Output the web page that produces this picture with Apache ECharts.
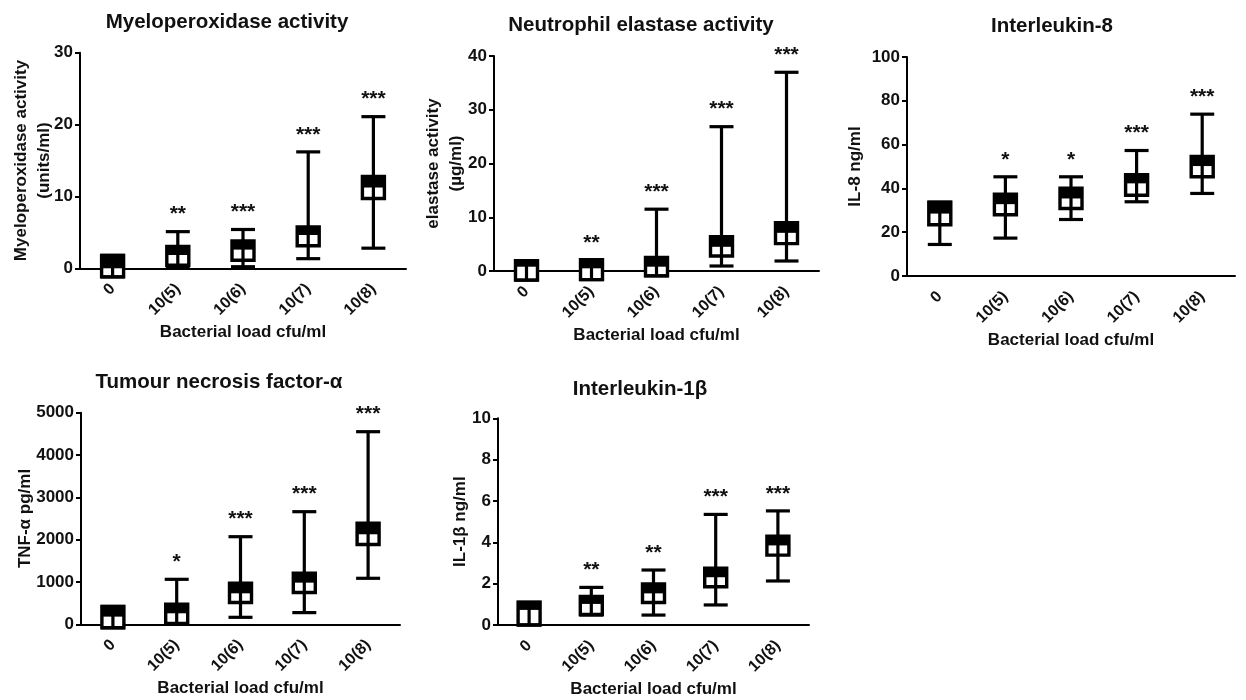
<!DOCTYPE html>
<html>
<head>
<meta charset="utf-8">
<script src="https://cdn.jsdelivr.net/npm/echarts@6/dist/echarts.min.js"></script>
<style>
  html, body { margin: 0; padding: 0; background: #fff; }
  #main { width: 1246px; height: 700px; }
</style>
</head>
<body>
<div id="main"></div>
<script>
var categories = ['0', '10(5)', '10(6)', '10(7)', '10(8)'];

// Myeloperoxidase activity (units/ml)
var mpoMin = [-1.2, 0.0, 0.22, 1.34, 2.8];
var mpoQ1  = [-1.2, 0.43, 1.13, 3.13, 9.71];
var mpoMed = [0.0, 1.85, 2.6, 4.63, 11.24];
var mpoQ3  = [1.8, 3.03, 3.8, 5.77, 12.77];
var mpoMax = [1.8, 5.1, 5.4, 16.2, 21.1];
var mpoSig = ['', '**', '***', '***', '***'];

// Neutrophil elastase activity (ug/ml)
var elaMin = [-1.7, -1.6, -0.9, 0.93, 1.86];
var elaQ1  = [-1.7, -1.6, -0.9, 2.8, 5.1];
var elaMed = [0.8, 0.5, 0.8, 4.5, 7.1];
var elaQ3  = [1.9, 2.1, 2.5, 6.4, 9.0];
var elaMax = [1.9, 2.1, 11.5, 26.85, 36.97];
var elaSig = ['', '**', '***', '***', '***'];

// Interleukin-8 (ng/ml)
var il8Min = [14.4, 17.3, 25.8, 33.9, 37.7];
var il8Q1  = [23.4, 28.0, 30.8, 36.9, 45.3];
var il8Med = [28.5, 32.8, 35.4, 42.3, 50.2];
var il8Q3  = [33.7, 37.3, 40.1, 46.2, 54.6];
var il8Max = [33.7, 45.3, 45.3, 57.3, 73.9];
var il8Sig = ['', '*', '*', '***', '***'];

// TNF-alpha (pg/ml)
var tnfMin = [-83, 10, 165, 276, 1087];
var tnfQ1  = [-83, 20, 516, 752, 1886];
var tnfMed = [181, 260, 732, 984, 2127];
var tnfQ3  = [422, 476, 972, 1209, 2389];
var tnfMax = [422, 1063, 2070, 2661, 4551];
var tnfSig = ['', '*', '***', '***', '***'];

// IL-1beta (ng/ml)
var il1Min = [0, 0.48, 0.48, 0.97, 2.13];
var il1Q1  = [0, 0.51, 1.09, 1.85, 3.38];
var il1Med = [0.73, 1.02, 1.53, 2.31, 3.85];
var il1Q3  = [1.1, 1.38, 1.98, 2.75, 4.3];
var il1Max = [1.1, 1.82, 2.66, 5.35, 5.52];
var il1Sig = ['', '**', '**', '***', '***'];

var FONT = '"Liberation Sans", Arial, Helvetica, sans-serif';
var INK = '#111';

var panels = [
  { title: 'Myeloperoxidase activity', yName: 'Myeloperoxidase activity\n(units/ml)', yGap: 24,
    min: mpoMin, q1: mpoQ1, med: mpoMed, q3: mpoQ3, max: mpoMax, sig: mpoSig,
    yMax: 30, step: 10, grid: { left: 80, top: 52.7, width: 326, height: 215.6 }, titlePos: [227, 12] },
  { title: 'Neutrophil elastase activity', yName: 'elastase activity\n(\u00b5g/ml)', yGap: 26,
    min: elaMin, q1: elaQ1, med: elaMed, q3: elaQ3, max: elaMax, sig: elaSig,
    yMax: 40, step: 10, grid: { left: 494, top: 56, width: 325, height: 215 }, titlePos: [641, 15] },
  { title: 'Interleukin-8', yName: 'IL-8 ng/ml', yGap: 40,
    min: il8Min, q1: il8Q1, med: il8Med, q3: il8Q3, max: il8Max, sig: il8Sig,
    yMax: 100, step: 20, grid: { left: 907, top: 57, width: 328, height: 219 }, titlePos: [1052, 16] },
  { title: 'Tumour necrosis factor-\u03b1', yName: 'TNF-\u03b1 pg/ml', yGap: 44,
    min: tnfMin, q1: tnfQ1, med: tnfMed, q3: tnfQ3, max: tnfMax, sig: tnfSig,
    yMax: 5000, step: 1000, grid: { left: 81, top: 412.7, width: 319, height: 211.6 }, titlePos: [219, 372] },
  { title: 'Interleukin-1\u03b2', yName: 'IL-1\u03b2 ng/ml', yGap: 26,
    min: il1Min, q1: il1Q1, med: il1Med, q3: il1Q3, max: il1Max, sig: il1Sig,
    yMax: 10, step: 2, grid: { left: 498, top: 418.3, width: 311, height: 206.7 }, titlePos: [640, 379] }
];

function boxRenderer(sig) {
  return function (params, api) {
    var i = api.value(0);
    var x = api.coord([i, 0])[0];
    var yMin = api.coord([i, api.value(1)])[1];
    var yQ1 = api.coord([i, api.value(2)])[1];
    var yMed = api.coord([i, api.value(3)])[1];
    var yQ3 = api.coord([i, api.value(4)])[1];
    var yMax = api.coord([i, api.value(5)])[1];
    var hw = 11, cw = 12;
    var kids = [
      { type: 'rect', shape: { x: x - hw, y: yQ3, width: hw * 2, height: yQ1 - yQ3 }, style: { fill: '#fff' } },
      { type: 'line', shape: { x1: x, y1: yMin, x2: x, y2: yMax }, style: { stroke: '#000', lineWidth: 3.2 } },
      { type: 'line', shape: { x1: x - cw, y1: yMin, x2: x + cw, y2: yMin }, style: { stroke: '#000', lineWidth: 3.2 } },
      { type: 'line', shape: { x1: x - cw, y1: yMax, x2: x + cw, y2: yMax }, style: { stroke: '#000', lineWidth: 3.2 } },
      { type: 'rect', shape: { x: x - hw, y: yQ3, width: hw * 2, height: yMed - yQ3 }, style: { fill: '#000' } },
      { type: 'rect', shape: { x: x - hw, y: yQ3, width: hw * 2, height: yQ1 - yQ3 }, style: { fill: 'none', stroke: '#000', lineWidth: 3.4 } }
    ];
    if (sig[params.dataIndex]) {
      kids.push({
        type: 'text', x: x, y: yMax - 17,
        style: { text: sig[params.dataIndex], fill: INK, font: 'bold 21px ' + FONT, align: 'center', verticalAlign: 'middle' }
      });
    }
    return { type: 'group', children: kids };
  };
}

var option = {
  animation: false,
  backgroundColor: '#fff',
  title: [], grid: [], xAxis: [], yAxis: [], series: []
};

panels.forEach(function (p, k) {
  option.title.push({
    text: p.title, left: p.titlePos[0], top: p.titlePos[1], textAlign: 'center', padding: 0,
    textStyle: { fontFamily: FONT, fontWeight: 'bold', fontSize: 20.5, color: INK }
  });
  option.grid.push({
    left: p.grid.left, top: p.grid.top, width: p.grid.width, height: p.grid.height,
    containLabel: false, outerBoundsMode: 'none'
  });
  option.xAxis.push({
    type: 'category', gridIndex: k, data: categories,
    name: 'Bacterial load cfu/ml', nameLocation: 'middle', nameGap: 56, nameMoveOverlap: false,
    nameTextStyle: { fontFamily: FONT, fontWeight: 'bold', fontSize: 17, color: INK },
    axisLine: { lineStyle: { color: '#000', width: 2 } },
    axisTick: { alignWithLabel: true, length: 6, lineStyle: { color: '#000', width: 2 } },
    axisLabel: { rotate: 45, margin: 18, interval: 0, fontFamily: FONT, fontWeight: 'bold', fontSize: 16, color: INK },
    splitLine: { show: false }
  });
  option.yAxis.push({
    type: 'value', gridIndex: k, min: 0, max: p.yMax, interval: p.step,
    name: p.yName, nameLocation: 'middle', nameGap: p.yGap, nameMoveOverlap: false,
    nameTextStyle: { fontFamily: FONT, fontWeight: 'bold', fontSize: 17, color: INK, lineHeight: 23 },
    axisLine: { show: true, lineStyle: { color: '#000', width: 2 } },
    axisTick: { show: true, length: 5, lineStyle: { color: '#000', width: 2 } },
    axisLabel: {
      margin: 7, fontFamily: FONT, fontWeight: 'bold', fontSize: 17, color: INK,
      formatter: function (v) { return String(v); }
    },
    splitLine: { show: false }
  });
  var rows = categories.map(function (c, i) {
    return [i, p.min[i], p.q1[i], p.med[i], p.q3[i], p.max[i]];
  });
  option.series.push({
    type: 'custom', xAxisIndex: k, yAxisIndex: k, clip: false,
    encode: { x: 0, y: [1, 2, 3, 4, 5] },
    renderItem: boxRenderer(p.sig),
    data: rows
  });
});

var chart = echarts.init(document.getElementById('main'));
chart.setOption(option);
</script>
</body>
</html>
